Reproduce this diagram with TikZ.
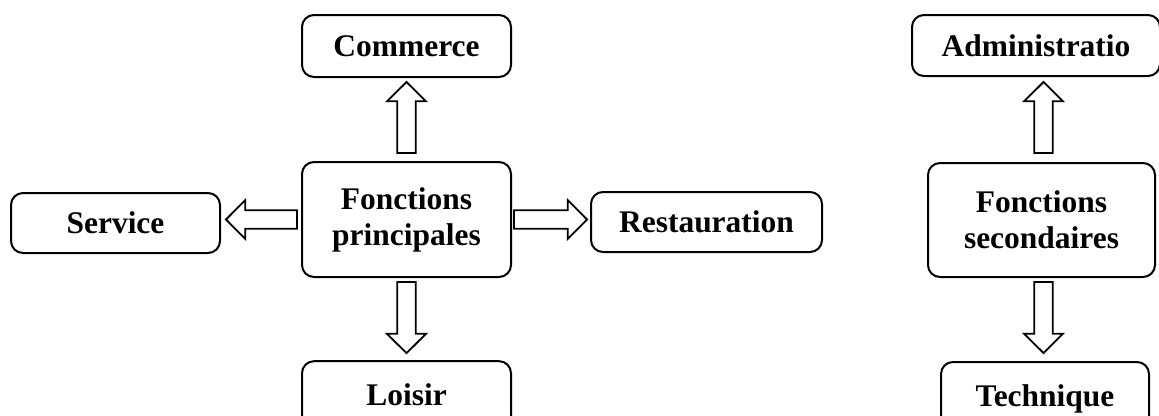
\documentclass[tikz,border=0pt]{standalone}
\usepackage{fontspec}
\setmainfont{Liberation Serif}
\usetikzlibrary{calc}
\tikzset{
  box/.style={draw, line width=1.5pt, rounded corners=9pt, align=center,
    font=\fontsize{23.6}{27}\selectfont\bfseries, inner sep=0pt},
  blockarrow/.style={draw, line width=1.35pt, fill=white, line join=miter,
    to path={let \p1=($(\tikztotarget)-(\tikztostart)$),
      \n1={veclen(\x1,\y1)}, \n2={atan2(\y1,\x1)} in
      {[shift={(\tikztostart)}, rotate=\n2, x=1pt, y=1pt]
       (0,-7) -- ({\n1-14.5},-7) -- ({\n1-14.5},-14.6) -- (\n1,0)
       -- ({\n1-14.5},14.6) -- ({\n1-14.5},7) -- (0,7) -- cycle}}}
}
\begin{document}
\begin{tikzpicture}[x=0.75pt,y=-0.75pt]
\clip (0,0) rectangle (1159,415);
\fill[white] (0,0) rectangle (1159,415);
% left group
\node[box, minimum width=156.75pt, minimum height=46.5pt] (commerce) at (406.5,46) {Commerce};
\node[box, minimum width=156.75pt, minimum height=86.25pt] (princ) at (406.5,219.5) {Fonctions\\principales};
\node[box, minimum width=156.75pt, minimum height=45pt] (service) at (115.5,223) {Service};
\node[box, minimum width=173.25pt, minimum height=45pt] (resto) at (706.5,222) {Restauration};
\node[box, minimum width=156.75pt, minimum height=50pt] (loisir) at (406.5,394.5) {Loisir};
% right group
\node[box, minimum width=186pt, minimum height=45.75pt] (admin) at (1036,45.5) {Administratio};
\node[box, minimum width=170.25pt, minimum height=85.5pt] (second) at (1041.5,220) {Fonctions\\secondaires};
\node[box, minimum width=156pt, minimum height=55.5pt] (tech) at (1045,399) {Technique};
% arrows
\draw[blockarrow] ([yshift=6pt]princ.north) to ([yshift=-3pt]commerce.south);
\draw[blockarrow] ([yshift=-3pt]princ.south) to ([yshift=5.25pt]loisir.north);
\draw[blockarrow] ([xshift=-3pt]princ.west) to ([xshift=3.75pt]princ.west -| service.east);
\draw[blockarrow] ([xshift=1.5pt]princ.east) to ([xshift=-2.25pt]princ.east -| resto.west);
\draw[blockarrow] ([xshift=1.5pt,yshift=6.75pt]second.north) to ([xshift=1.5pt,yshift=-3.75pt]second.north |- admin.south);
\draw[blockarrow] ([xshift=1.5pt,yshift=-3pt]second.south) to ([xshift=1.5pt,yshift=6pt]second.south |- tech.north);
\end{tikzpicture}
\end{document}
